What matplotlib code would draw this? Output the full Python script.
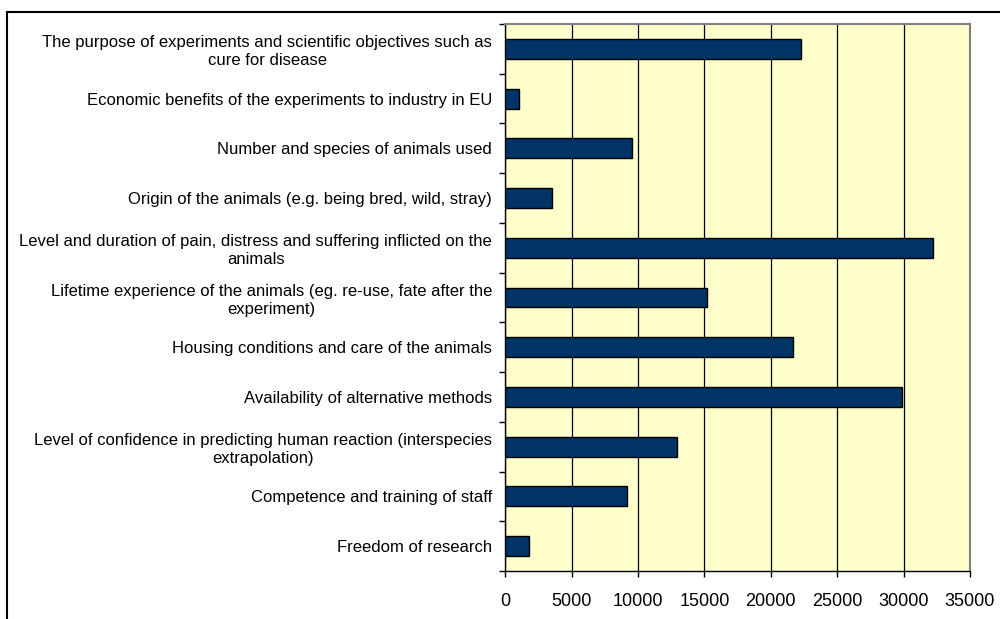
import matplotlib
matplotlib.use("Agg")
import matplotlib.pyplot as plt
import numpy as np
from matplotlib.patches import Rectangle

categories = [
    "The purpose of experiments and scientific objectives such as\ncure for disease",
    "Economic benefits of the experiments to industry in EU",
    "Number and species of animals used",
    "Origin of the animals (e.g. being bred, wild, stray)",
    "Level and duration of pain, distress and suffering inflicted on the\nanimals",
    "Lifetime experience of the animals (eg. re-use, fate after the\nexperiment)",
    "Housing conditions and care of the animals",
    "Availability of alternative methods",
    "Level of confidence in predicting human reaction (interspecies\nextrapolation)",
    "Competence and training of staff",
    "Freedom of research",
]
values = [22300, 1000, 9550, 3500, 32200, 15200, 21650, 29900, 12950, 9200, 1800]
xticks = [0, 5000, 10000, 15000, 20000, 25000, 30000, 35000]

plt.rcParams['font.family'] = ['Liberation Sans', 'DejaVu Sans']

fig = plt.figure(figsize=(10, 6.19), dpi=100)
ax = fig.add_axes([0.5053, 0.0775, 0.4647, 0.8837])
ax.set_facecolor('#FFFFCC')

n = len(categories)
y = np.arange(n)
ax.barh(y, values, height=0.4, color='#003366', edgecolor='black', linewidth=1.0, zorder=3)

ax.set_xlim(0, 35000)
ax.set_ylim(n - 0.5, -0.5)
ax.set_xticks(xticks)
ax.set_xticklabels([str(v) for v in xticks], fontsize=13)
ax.set_yticks(y)
ax.set_yticklabels(categories, fontsize=12, multialignment='center', linespacing=1.25)
ax.set_yticks(np.arange(n + 1) - 0.5, minor=True)
ax.tick_params(axis='y', which='major', length=0, pad=9.4)
ax.tick_params(axis='y', which='minor', length=4, width=1, color='black', direction='out')
ax.tick_params(axis='x', which='major', length=4, width=1, color='black', direction='out', pad=12)

ax.grid(axis='x', color='black', linewidth=0.9, zorder=1)
ax.set_axisbelow(True)

for s in ['top', 'right']:
    ax.spines[s].set_color('#808080')
    ax.spines[s].set_linewidth(1.5)
for s in ['left', 'bottom']:
    ax.spines[s].set_color('black')
    ax.spines[s].set_linewidth(1.0)

border = Rectangle((7 / 1000, -0.05), 1.1, 1 - 12 / 619 + 0.05, transform=fig.transFigure,
                   fill=False, edgecolor='black', linewidth=1.5, clip_on=False)
fig.patches.append(border)

fig.savefig('out.png', dpi=100)
